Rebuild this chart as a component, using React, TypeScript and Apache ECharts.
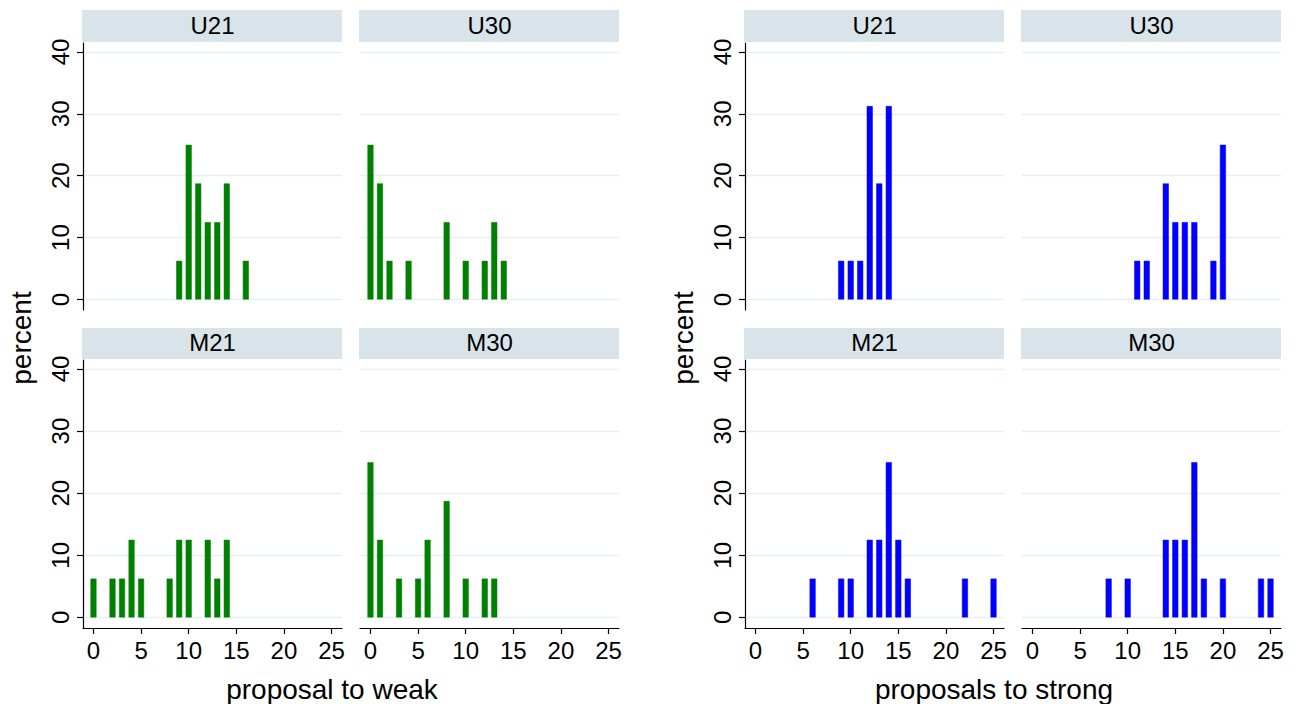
import React, { useEffect, useRef } from 'react';
import * as echarts from 'echarts';

// ---- data ----
const panelNames = ['U21', 'U30', 'M21', 'M30'];
const xTickValues = [0, 5, 10, 15, 20, 25];
const yTickValues = [0, 10, 20, 30, 40];
const figureTitles = ['proposal to weak', 'proposals to strong'];
const yTitle = 'percent';

// percent of proposals, [value, percent]
const weakU21 = [[9, 6.25], [10, 25], [11, 18.75], [12, 12.5], [13, 12.5], [14, 18.75], [16, 6.25]];
const weakU30 = [[0, 25], [1, 18.75], [2, 6.25], [4, 6.25], [8, 12.5], [10, 6.25], [12, 6.25], [13, 12.5], [14, 6.25]];
const weakM21 = [[0, 6.25], [2, 6.25], [3, 6.25], [4, 12.5], [5, 6.25], [8, 6.25], [9, 12.5], [10, 12.5], [12, 12.5], [13, 6.25], [14, 12.5]];
const weakM30 = [[0, 25], [1, 12.5], [3, 6.25], [5, 6.25], [6, 12.5], [8, 18.75], [10, 6.25], [12, 6.25], [13, 6.25]];

const strongU21 = [[9, 6.25], [10, 6.25], [11, 6.25], [12, 31.25], [13, 18.75], [14, 31.25]];
const strongU30 = [[11, 6.25], [12, 6.25], [14, 18.75], [15, 12.5], [16, 12.5], [17, 12.5], [19, 6.25], [20, 25]];
const strongM21 = [[6, 6.25], [9, 6.25], [10, 6.25], [12, 12.5], [13, 12.5], [14, 25], [15, 12.5], [16, 6.25], [22, 6.25], [25, 6.25]];
const strongM30 = [[8, 6.25], [10, 6.25], [14, 12.5], [15, 12.5], [16, 12.5], [17, 25], [18, 6.25], [20, 6.25], [24, 6.25], [25, 6.25]];

const weakPanels = [weakU21, weakU30, weakM21, weakM30];
const strongPanels = [strongU21, strongU30, strongM21, strongM30];

const FONT = 'Arial, "Liberation Sans", Helvetica, sans-serif';

export default function App() {
  const ref = useRef<HTMLDivElement>(null);

  useEffect(() => {
    if (!ref.current) return;
    const chart = echarts.init(ref.current, undefined, { renderer: 'svg' });

    const figLeft = [83, 745];
    const colOffset = [0, 277];
    const rowTop = [43, 360];
    const rowHeight = [267, 268];
    const stripTop = [10, 328];
    const stripHeight = [32, 31];
    const gridWidth = 259;
    const colors = ['#008000', '#0000ff'];
    const figs = [weakPanels, strongPanels];

    const grids: any[] = [];
    const xAxes: any[] = [];
    const yAxes: any[] = [];
    const series: any[] = [];
    const graphics: any[] = [];

    figs.forEach((panels, f) => {
      panels.forEach((data, p) => {
        const r = Math.floor(p / 2);
        const c = p % 2;
        const left = figLeft[f] + colOffset[c];
        const idx = grids.length;
        grids.push({ left, top: rowTop[r], width: gridWidth, height: rowHeight[r], containLabel: false });
        xAxes.push({
          gridIndex: idx,
          type: 'value',
          min: -1.1,
          max: 26.1,
          show: r === 1,
          axisLine: { show: true, onZero: false, lineStyle: { color: '#000', width: 1.2 } },
          axisTick: { show: true, length: 6, customValues: xTickValues, lineStyle: { color: '#000', width: 1.2 } },
          axisLabel: { show: true, customValues: xTickValues, margin: 10, color: '#000', fontSize: 24, fontFamily: FONT },
          splitLine: { show: false },
        });
        yAxes.push({
          gridIndex: idx,
          type: 'value',
          min: -1.7,
          max: 41.45,
          show: c === 0,
          axisLine: { show: true, onZero: false, lineStyle: { color: '#000', width: 1.2 } },
          axisTick: { show: true, length: 6, customValues: yTickValues, lineStyle: { color: '#000', width: 1.2 } },
          axisLabel: { show: true, rotate: 90, customValues: yTickValues, margin: 11, color: '#000', fontSize: 24, fontFamily: FONT },
          splitLine: { show: false },
        });
        series.push({
          type: 'bar',
          xAxisIndex: idx,
          yAxisIndex: idx,
          data,
          barWidth: 6,
          z: 2,
          itemStyle: { color: colors[f], borderColor: colors[f], borderWidth: 0.5, opacity: 1 },
          emphasis: { disabled: true },
          silent: true,
          markLine: {
            silent: true,
            z: 0,
            symbol: ['none', 'none'],
            label: { show: false },
            lineStyle: { color: '#e8eff1', width: 1.3, type: 'solid' },
            emphasis: { disabled: true },
            data: yTickValues.map((v) => ({ yAxis: v })),
          },
        });
        graphics.push({
          type: 'rect',
          shape: { x: left - 1, y: stripTop[r], width: gridWidth + 1, height: stripHeight[r] },
          style: { fill: '#d9e4ea' },
          silent: true,
        });
        graphics.push({
          type: 'text',
          x: left + gridWidth / 2,
          y: stripTop[r] + stripHeight[r] / 2 - 1,
          style: { text: panelNames[p], fontSize: 24, fontFamily: FONT, fill: '#000', align: 'center', verticalAlign: 'middle' },
          silent: true,
        });
      });
      graphics.push({
        type: 'text',
        x: 21 + (figLeft[f] - figLeft[0]),
        y: 338,
        rotation: Math.PI / 2,
        style: { text: yTitle, fontSize: 28, fontFamily: FONT, fill: '#000', align: 'center', verticalAlign: 'middle' },
        silent: true,
      });
      graphics.push({
        type: 'text',
        x: 332 + (figLeft[f] - figLeft[0]),
        y: 689,
        style: { text: figureTitles[f], fontSize: 28, fontFamily: FONT, fill: '#000', align: 'center', verticalAlign: 'middle' },
        silent: true,
      });
    });

    chart.setOption({
      animation: false,
      backgroundColor: '#ffffff',
      grid: grids,
      xAxis: xAxes,
      yAxis: yAxes,
      series,
      graphic: graphics,
    });

    return () => chart.dispose();
  }, []);

  return <div ref={ref} style={{ position: 'absolute', left: 0, top: 0, width: 1298, height: 704 }} />;
}
